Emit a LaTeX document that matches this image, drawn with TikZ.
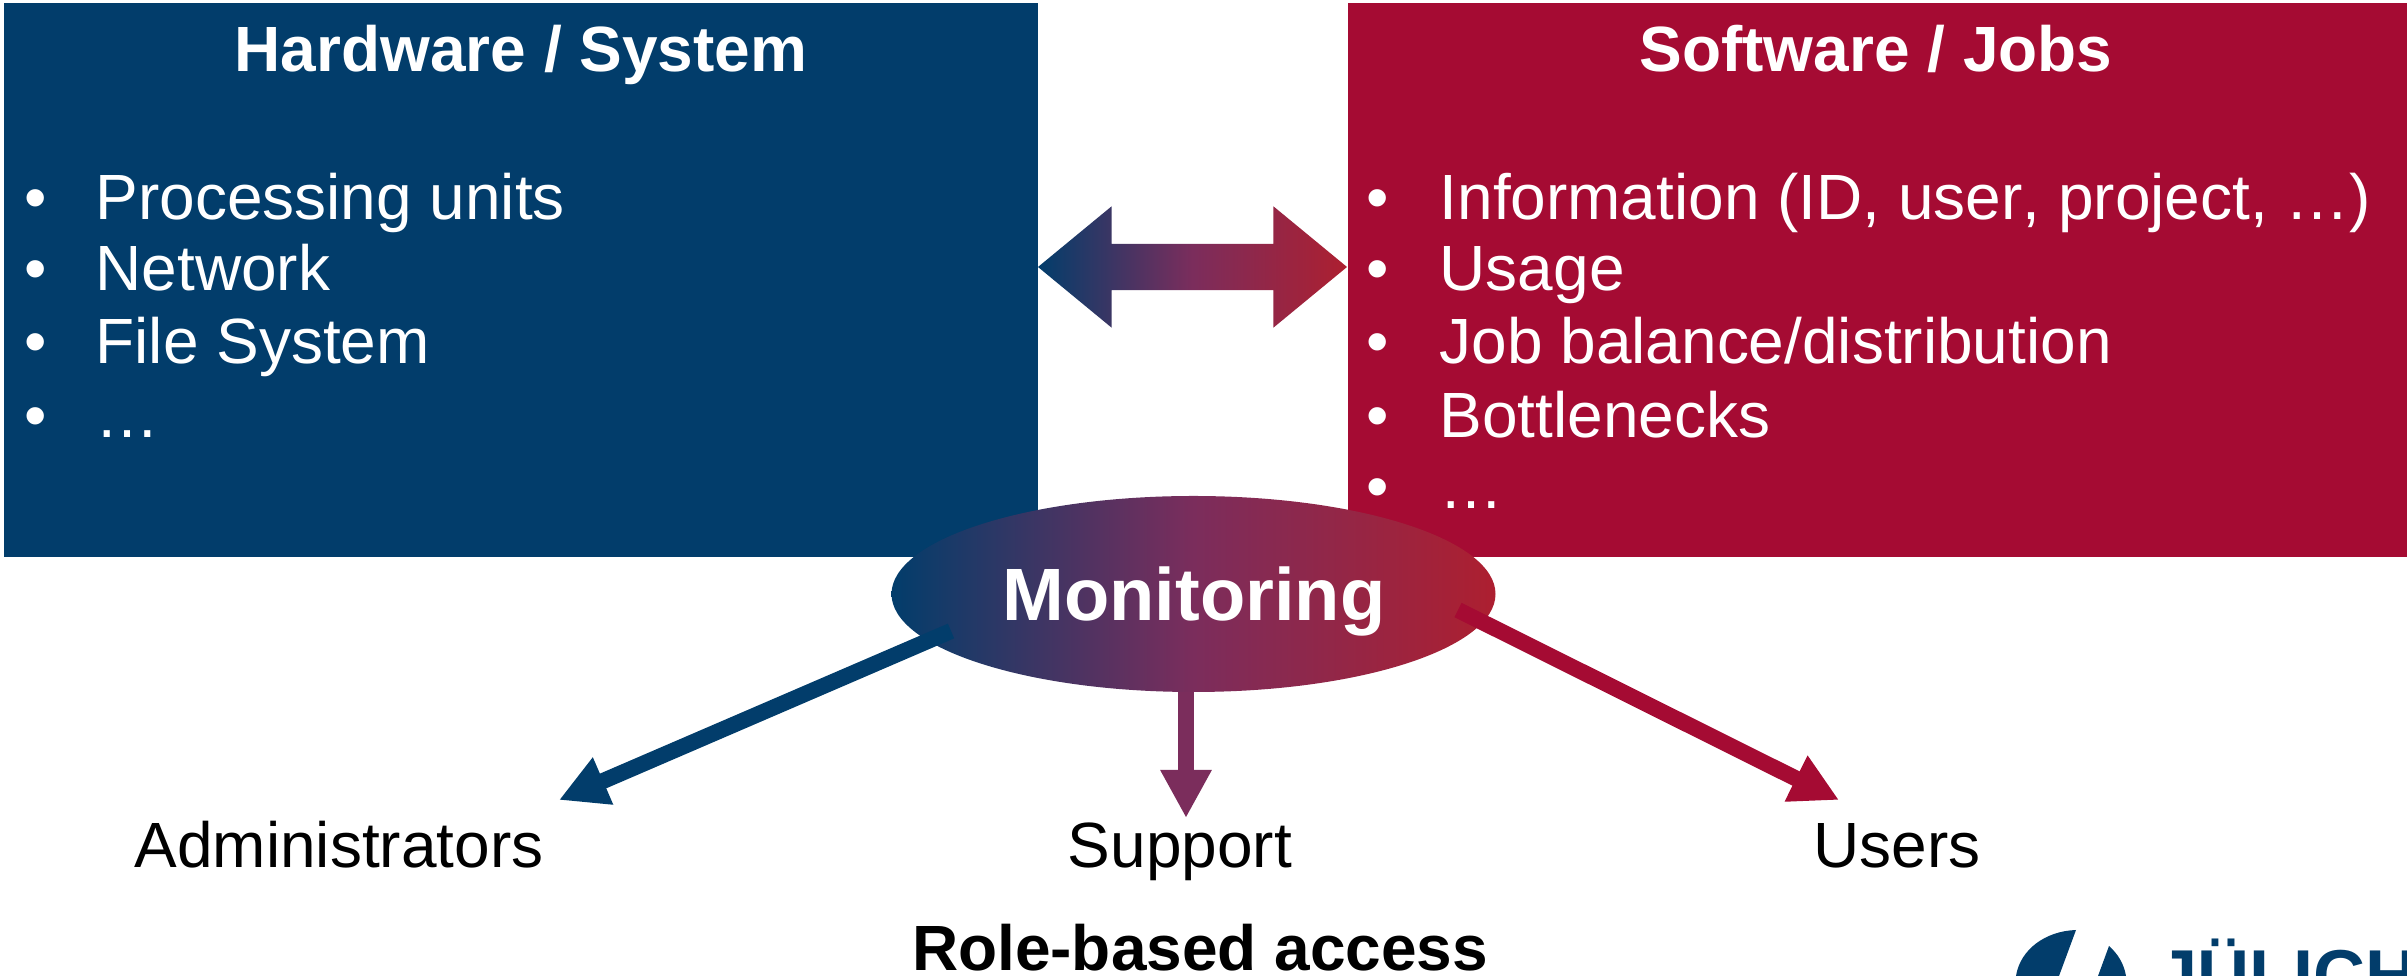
\documentclass[tikz,border=0pt]{standalone}
\usepackage{fontspec}
\setmainfont[Kerning=Off]{Liberation Sans}
\usetikzlibrary{arrows.meta}
\usetikzlibrary{shapes.geometric}
\usetikzlibrary{shapes.arrows}
\definecolor{fzblue}{HTML}{023D6B}
\definecolor{fzred}{HTML}{A50B33}
\definecolor{fzmix}{HTML}{7B2D5C}
\definecolor{fzshade}{HTML}{AD1F30}
\tikzset{
  panel/.style={anchor=north west,inner sep=0pt,minimum height=5.54cm},
  panelhead/.style={anchor=base,text=white,font=\fontsize{18.2}{21}\selectfont\bfseries},
  listitem/.style={anchor=base west,inner sep=0pt,text=white,font=\fontsize{18.2}{21}\selectfont},
  role/.style={anchor=base,inner sep=0pt,font=\fontsize{18.2}{21}\selectfont},
  blend/.style={left color=fzblue,right color=fzshade,middle color=fzmix,inner sep=0pt},
  rolearrow/.style={line width=0.16cm,-{Triangle[length=0.48cm,width=0.48cm]}},
}
\begin{document}
\begin{tikzpicture}
\useasboundingbox (0,0) rectangle (24.07,9.76);
% boxes
\node[panel,fill=fzblue,minimum width=10.34cm] (hardware) at (0.03,9.74) {};
\node[panel,fill=fzred,minimum width=10.60cm] (software) at (13.47,9.74) {};
\node[panelhead] (hardwarehead) at (5.21,9.04) {Hardware / System};
\node[panelhead] (softwarehead) at (18.76,9.04) {Software / Jobs};
% hardware list
\foreach \i/\y/\t in {1/7.565/{Processing units},2/6.855/{Network},3/6.125/{File System},4/5.385/{…}} {
  \node[listitem] (hwbullet\i) at (0.235,\y) {•};
  \node[listitem] (hwitem\i) at (0.95,\y) {\t};
}
% software list
\foreach \i/\y/\t in {1/7.565/{Information (ID, user, project, …)},2/6.855/{Usage},3/6.125/{Job balance/distribution},4/5.385/{Bottlenecks},5/4.67/{…}} {
  \node[listitem] (swbullet\i) at (13.66,\y) {•};
  \node[listitem] (switem\i) at (14.39,\y) {\t};
}
% between the boxes
\node[double arrow,blend,inner xsep=0pt,inner ysep=0.225cm,double arrow head extend=0.375cm,
  double arrow tip angle=79,minimum width=1.2cm,minimum height=3.09cm] (link) at (11.925,7.09) {};
% monitoring
\node[ellipse,blend,minimum width=6.04cm,minimum height=1.96cm] (monitoring) at (11.935,3.82) {};
\node[text=white,inner sep=0pt,anchor=base,font=\fontsize{21.1}{24}\selectfont\bfseries] (monitoringtext) at (11.94,3.55) {Monitoring};
% roles
\node[role] (admins) at (3.39,1.085) {Administrators};
\node[role] (support) at (11.80,1.085) {Support};
\node[role] (users) at (18.97,1.085) {Users};
\node[role,font=\fontsize{18.2}{21}\selectfont\bfseries] (access) at (12.00,0.05) {Role-based access};
\coordinate (adminfrom) at (9.51,3.45);
\coordinate (adminto) at (5.59,1.76);
\coordinate (supportfrom) at (11.86,2.84);
\coordinate (supportto) at (11.86,1.58);
\coordinate (usersfrom) at (14.58,3.66);
\coordinate (usersto) at (18.39,1.76);
\draw[rolearrow,fzblue] (adminfrom) -- (adminto);
\draw[rolearrow,fzmix] (supportfrom) -- (supportto);
\draw[rolearrow,fzred] (usersfrom) -- (usersto);
% logo
\fill[fzblue] (20.76,0.46) .. controls (20.45,0.45) and (20.20,0.26) .. (20.16,0) -- (20.59,0) -- cycle;
\fill[fzblue] (21.09,0.30) -- (20.98,0) -- (21.26,0) .. controls (21.24,0.12) and (21.18,0.22) .. (21.09,0.30) -- cycle;
\node[anchor=base west,inner sep=0pt,text=fzblue,font=\fontsize{20.5}{24}\selectfont\bfseries] (logo) at (21.57,-0.25) {JÜLICH};
\end{tikzpicture}
\end{document}
